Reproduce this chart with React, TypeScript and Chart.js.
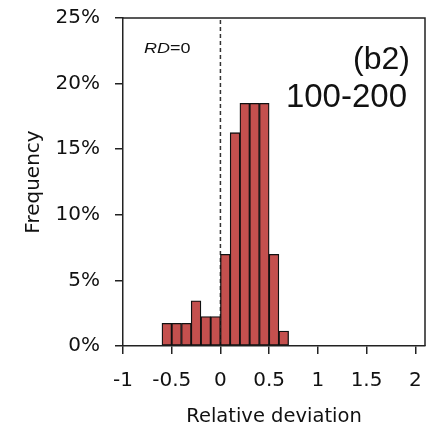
import { useEffect, useRef } from "react";
import { Chart, registerables } from "chart.js";

Chart.register(...registerables);

// Histogram bins (centres, width 0.1) and their frequencies in %
const binCenters = [-0.55, -0.45, -0.35, -0.25, -0.15, -0.05, 0.05, 0.15, 0.25, 0.35, 0.45, 0.55, 0.65];
const frequencies = [1.73, 1.73, 1.73, 3.45, 2.24, 2.24, 6.99, 16.26, 18.5, 18.5, 18.5, 6.99, 1.14];
const xTicks = [-1, -0.5, 0, 0.5, 1, 1.5, 2];
const yTicks = [0, 5, 10, 15, 20, 25];
const xMin = -1;
const xMax = 2.1;
const yMin = 0;
const yMax = 25;
const refLineX = 0;
const refLabelItalic = "RD";
const refLabelRest = "=0";
const panelLabel = "(b2)";
const rangeLabel = "100-200";
const xTitle = "Relative deviation";
const yTitle = "Frequency";

const FONT = "'DejaVu Sans', sans-serif";
const TEXT = "#111";
const AXIS = "#222";

const framePlugin = {
  id: "frameAndLabels",
  afterDatasetsDraw(chart: any) {
    const { ctx, chartArea } = chart;
    const { left, right, top, bottom } = chartArea;
    ctx.save();
    ctx.strokeStyle = AXIS;
    ctx.lineWidth = 1.5;
    ctx.beginPath();
    ctx.moveTo(left, top);
    ctx.lineTo(right, top);
    ctx.lineTo(right, bottom);
    ctx.stroke();

    ctx.fillStyle = "#111";
    ctx.textBaseline = "alphabetic";
    ctx.textAlign = "left";
    // RD=0 label (slightly widened like the reference)
    ctx.save();
    ctx.translate(left + 21, top + 35);
    ctx.scale(1.2, 1);
    ctx.font = "italic 15px 'Liberation Sans', Arial, sans-serif";
    ctx.fillText(refLabelItalic, 0, 0);
    const w = ctx.measureText(refLabelItalic).width;
    ctx.font = "15px 'Liberation Sans', Arial, sans-serif";
    ctx.fillText(refLabelRest, w, 0);
    ctx.restore();

    ctx.textAlign = "right";
    ctx.font = "32px 'Liberation Sans', Arial, sans-serif";
    ctx.fillText(panelLabel, right - 15, top + 51);
    ctx.font = "33px 'Liberation Sans', Arial, sans-serif";
    ctx.fillText(rangeLabel, right - 18, top + 89);
    ctx.restore();
  },
};

export default function App() {
  const ref = useRef<HTMLCanvasElement | null>(null);

  useEffect(() => {
    if (!ref.current) return;
    const chart = new Chart(ref.current, {
      type: "bar",
      data: {
        datasets: [
          {
            type: "bar",
            data: binCenters.map((x, i) => ({ x, y: frequencies[i] })),
            backgroundColor: "#C4504E",
            borderColor: "#111",
            borderWidth: 1.3,
            borderSkipped: false,
            barPercentage: 1,
            categoryPercentage: 1,
            order: 1,
          } as any,
          {
            type: "line",
            data: [
              { x: refLineX, y: yMin },
              { x: refLineX, y: yMax },
            ],
            borderColor: "#333",
            borderWidth: 1.5,
            borderDash: [4, 3],
            pointRadius: 0,
            order: 2,
          } as any,
        ],
      },
      options: {
        animation: false,
        responsive: false,
        layout: { padding: { left: 0, top: 18, right: 10, bottom: 0 } },
        plugins: { legend: { display: false }, tooltip: { enabled: false } },
        scales: {
          x: {
            type: "linear",
            min: xMin,
            max: xMax,
            offset: false,
            afterBuildTicks: (s: any) => {
              s.ticks = xTicks.map((v) => ({ value: v }));
            },
            afterFit: (s: any) => {
              s.height = 82;
              s.paddingLeft = 0;
              s.paddingRight = 0;
            },
            ticks: {
              callback: (v: any) => String(v),
              font: { family: FONT, size: 20 },
              color: TEXT,
              padding: 15,
              maxRotation: 0,
              autoSkip: false,
            },
            grid: {
              display: true,
              offset: false,
              drawOnChartArea: false,
              drawTicks: true,
              tickLength: 8,
              color: AXIS,
              lineWidth: 1.5,
            },
            border: { display: true, color: AXIS, width: 1.5 },
            title: {
              display: true,
              text: xTitle,
              font: { family: FONT, size: 19.5, lineHeight: 1 },
              color: TEXT,
              padding: { top: 0, bottom: 1 },
            },
          } as any,
          y: {
            type: "linear",
            min: yMin,
            max: yMax,
            afterBuildTicks: (s: any) => {
              s.ticks = yTicks.map((v) => ({ value: v }));
            },
            afterFit: (s: any) => {
              s.width = 123;
              s.paddingTop = 0;
              s.paddingBottom = 0;
            },
            ticks: {
              callback: (v: any) => v + "%",
              font: { family: FONT, size: 20 },
              color: TEXT,
              padding: 15,
            },
            grid: {
              display: true,
              drawOnChartArea: false,
              drawTicks: true,
              tickLength: 8,
              color: AXIS,
              lineWidth: 1.5,
            },
            border: { display: true, color: AXIS, width: 1.5 },
            title: {
              display: true,
              text: yTitle,
              font: { family: FONT, size: 20, lineHeight: 1 },
              color: TEXT,
              padding: { top: 24, bottom: 0 },
            },
          } as any,
        },
      },
      plugins: [framePlugin],
    });
    return () => chart.destroy();
  }, []);

  return (
    <div style={{ position: "absolute", left: 0, top: 0, width: 435, height: 428 }}>
      <canvas ref={ref} width={435} height={428} />
    </div>
  );
}
